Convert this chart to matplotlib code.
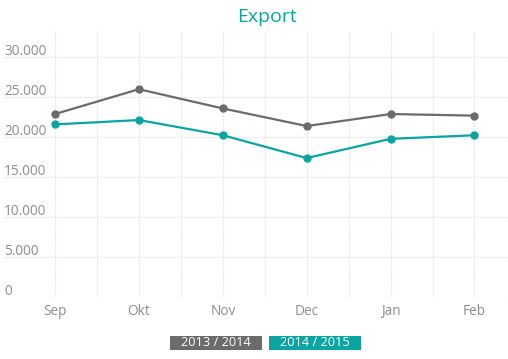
import matplotlib
matplotlib.use("Agg")
import matplotlib.pyplot as plt
from matplotlib.patches import Rectangle
from matplotlib.transforms import blended_transform_factory

months = ["Sep", "Okt", "Nov", "Dec", "Jan", "Feb"]
series_names = ["2013 / 2014", "2014 / 2015"]
values_2013_2014 = [22900, 26000, 23600, 21400, 22900, 22700]
values_2014_2015 = [21600, 22150, 20250, 17400, 19800, 20250]
y_ticks = [0, 5000, 10000, 15000, 20000, 25000, 30000]
y_tick_labels = ["0", "5.000", "10.000", "15.000", "20.000", "25.000", "30.000"]

gray = "#6b6b6b"
teal = "#0aa5a0"
label_col = "#8c8c8c"

plt.rcParams['font.family'] = ["Open Sans", "DejaVu Sans"]

fig = plt.figure(figsize=(5.08, 3.59), dpi=100)
W, H = 508, 359
ax = fig.add_axes([3 / W, (H - 297.3) / H, (508 - 3) / W, (297.3 - 30) / H])

x = list(range(len(months)))
ax.set_xlim(-0.62, 5.4)
ax.set_ylim(0, 33400)

for s in ax.spines.values():
    s.set_visible(False)

ax.set_yticks(y_ticks)
ax.set_yticklabels([])
ax.tick_params(axis='y', length=0)
ax.set_xticks(x)
ax.set_xticklabels(months, color=label_col, fontsize=9.8, va='baseline')
ax.set_xticks([i + 0.5 for i in range(len(months) - 1)], minor=True)
ax.tick_params(axis='x', which='both', length=0, pad=12.5)
ax.grid(True, which='both', color="#e6e6e6", lw=0.8, ls=(0, (2, 1)))
ax.set_axisbelow(True)

trans = blended_transform_factory(fig.transFigure, ax.transData)
for v, lab in zip(y_ticks, y_tick_labels):
    ax.text(4 / W, v + 280, lab, transform=trans, ha='left', va='baseline',
            color=label_col, fontsize=9.8)

ax.plot(x, values_2013_2014, color=gray, lw=1.6, marker='o', ms=5, zorder=3)
ax.plot(x, values_2014_2015, color=teal, lw=1.6, marker='o', ms=5, zorder=3)

fig.text(267 / W, 1 - 17 / H, "Export", ha='center', va='center', color=teal, fontsize=14)

# legend boxes
for (x0, x1), name, col in zip([(170, 262), (269, 361)], series_names, [gray, teal]):
    fig.patches.append(Rectangle((x0 / W, 1 - 349.5 / H), (x1 - x0) / W, 13.5 / H,
                                 transform=fig.transFigure, color=col, lw=0))
    fig.text((x0 + x1) / 2 / W, 1 - 342.8 / H, name, ha='center', va='center',
             color='white', fontsize=9.2)

fig.savefig("out.png", dpi=100)
